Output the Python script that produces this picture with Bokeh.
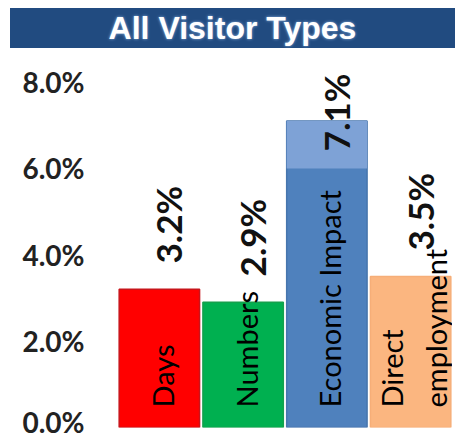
from bokeh.plotting import figure
from bokeh.models import ColumnDataSource, FactorRange, Range1d, FixedTicker, PrintfTickFormatter, Div
from bokeh.layouts import column
from bokeh.embed import file_html
from bokeh.resources import INLINE
from bokeh.core.properties import value
import math

# ---- data ----
title_text = "All Visitor Types"
categories = ["Days", "Numbers", "Economic Impact", "Direct employment"]
category_labels = ["Days", "Numbers", "Economic Impact", "Direct\nemployment"]
values = [3.2, 2.9, 7.1, 3.5]          # percent
value_labels = ["3.2%", "2.9%", "7.1%", "3.5%"]
y_ticks = [0, 2, 4, 6, 8]

fills = ["#FF0000", "#00B050", "#4F81BD", "#FBB680"]
edges = ["#C8141A", "#14A04C", "#4775AD", "#F6AE78"]

Y_END = 8.5
# labels that would not fit above the bar are placed inside its top
inside = [v + 2.4 > Y_END for v in values]
label_base = [v - 0.7 if ins else v + 0.6 for v, ins in zip(values, inside)]

src = ColumnDataSource(dict(cat=categories, val=values, fill=fills, edge=edges,
                            catlab=category_labels, vlab=value_labels,
                            lbase=label_base, zero=[0] * len(values)))
cap_src = ColumnDataSource(dict(
    cat=[c for c, ins in zip(categories, inside) if ins],
    top=[v for v, ins in zip(values, inside) if ins],
    bottom=[v - 1.1 for v, ins in zip(values, inside) if ins]))

title = Div(text=title_text, width=445, height=40, margin=(8, 0, 0, 10),
            styles={"background-color": "#214B80", "color": "white",
                    "font-family": "Liberation Sans", "font-weight": "bold",
                    "font-size": "32px", "text-align": "center",
                    "line-height": "40px", "width": "445px", "height": "40px",
                    "text-shadow": "0 0 3px #8FB4E0"})

p = figure(x_range=FactorRange(*categories, range_padding=0),
           y_range=Range1d(0, Y_END),
           width=452, height=390, output_backend="svg", toolbar_location=None,
           min_border_left=117, min_border_right=0, min_border_top=12,
           min_border_bottom=11, margin=0)
p.outline_line_color = None
p.xgrid.visible = False
p.ygrid.visible = False
p.xaxis.visible = False

p.vbar(x="cat", top="val", width=0.96, source=src, fill_color="fill",
       line_color="edge", line_width=1.5)
p.vbar(x="cat", top="top", bottom="bottom", width=0.96, source=cap_src,
       fill_color="#7EA2D6", line_color=None)

p.text(x="cat", y="zero", text="catlab", source=src, angle=math.pi / 2,
       text_align="left", text_baseline="middle", x_offset=3, y_offset=-20,
       text_font=value("Lato"), text_font_size="29px", text_color="black",
       text_line_height=1.25)
p.text(x="cat", y="lbase", text="vlab", source=src, angle=math.pi / 2,
       text_align="left", text_baseline="middle", x_offset=9,
       text_font=value("Lato"), text_font_size="35px", text_font_style="bold",
       text_color="#111111")

ax = p.yaxis[0]
ax.ticker = FixedTicker(ticks=y_ticks)
ax.formatter = PrintfTickFormatter(format="%.1f%%")
ax.axis_line_color = None
ax.major_tick_line_color = None
ax.minor_tick_line_color = None
ax.major_label_text_font = "Lato"
ax.major_label_text_font_size = "28px"
ax.major_label_text_font_style = "bold"
ax.major_label_text_color = "#222222"
ax.major_label_standoff = 27

layout = column(title, p, spacing=0)
open("out.html", "w").write(file_html(layout, INLINE))
